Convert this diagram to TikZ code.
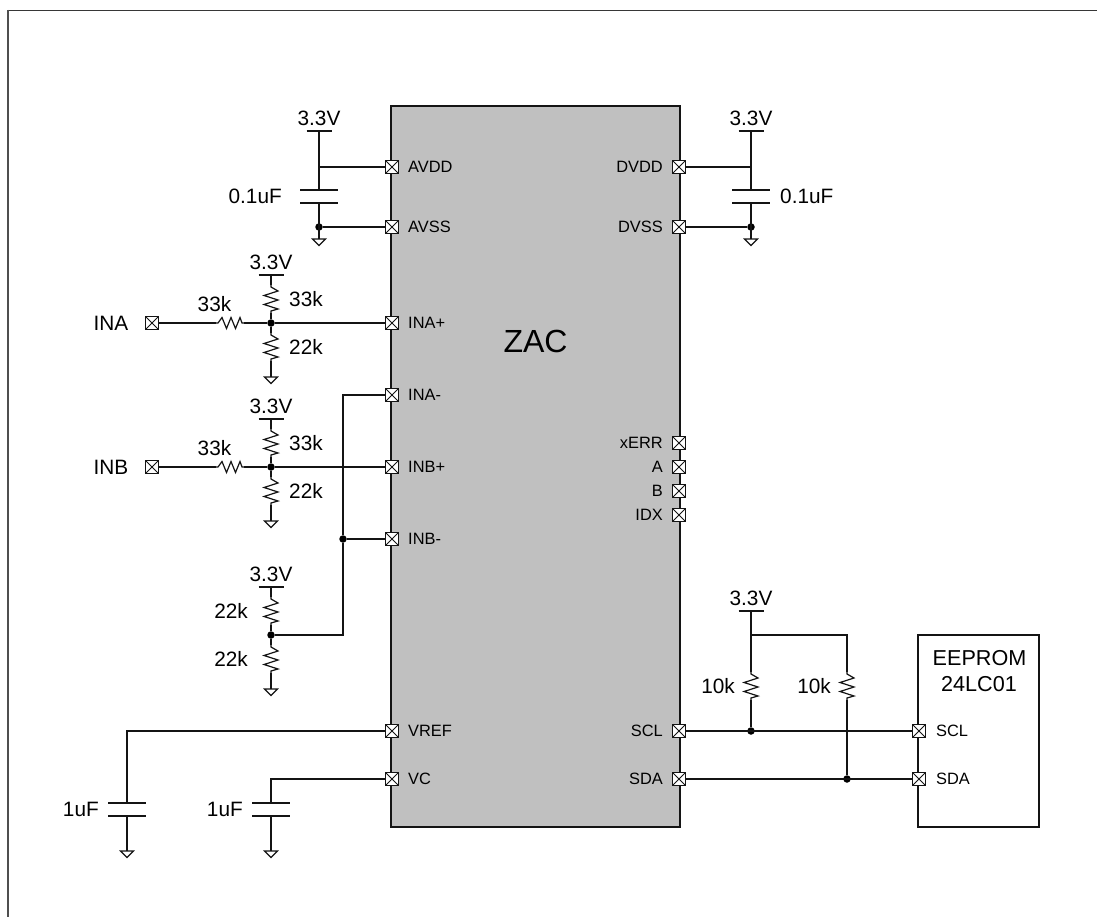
\documentclass[tikz,border=0pt]{standalone}
\usepackage{fontspec}
\setmainfont{Liberation Sans}
\usetikzlibrary{calc}
\definecolor{icgray}{RGB}{192,192,192}
\definecolor{ink}{RGB}{20,20,20}
\tikzset{
  x=1pt,y=-1pt,
  wire/.style={draw=ink,line width=1.2pt},
  plate/.style={draw=ink,line width=2.4pt},
  supbar/.style={draw=ink,line width=1.1pt},
  pin/.style={draw=ink,fill=white,line width=1pt,minimum size=12.5pt,inner sep=0pt,outer sep=0pt,rectangle,
    path picture={\draw[ink,line width=1pt] (path picture bounding box.north west)--(path picture bounding box.south east)
      (path picture bounding box.north east)--(path picture bounding box.south west);}},
  dot/.style={circle,fill=black,inner sep=0pt,minimum size=7.5pt},
  big/.style={font=\fontsize{20.8}{23}\selectfont,inner sep=0pt},
  small/.style={font=\fontsize{16.4}{18}\selectfont,inner sep=0pt},
  title/.style={font=\fontsize{32}{34}\selectfont,inner sep=0pt},
  vres/.pic={\draw[wire,line join=miter] (0,0)--(0,2)--(7,6)--(-7,10.5)--(7,15)--(-7,19.5)--(7,24)--(0,26)--(0,28);},
  hres/.pic={\draw[wire,line join=miter] (0,0)--(2,0)--(6,-5.5)--(10.5,5.5)--(15,-5.5)--(19.5,5.5)--(24,-5.5)--(26,0)--(28,0);},
  gnd/.pic={\draw[draw=ink,line width=1.1pt] (-6.5,0)--(6.5,0)--(0,6.5)--cycle;},
  capacitor/.pic={\draw[plate] (-19,0)--(19,0) (-19,13)--(19,13);}
}
\newcommand{\supply}[3]{% name, x, y of bar
  \coordinate (#1) at (#2,#3);
  \draw[supbar] (#2-12.5,#3)--(#2+12.5,#3);
  \node[big] (#1t) at (#2,#3-13) {3.3V};
}
\begin{document}
\begin{tikzpicture}
\useasboundingbox (0,0) rectangle (1097,917);
\draw[draw=ink!85,line width=1.3pt] (1097,10.5)--(7.5,10.5);
\draw[draw=ink!75,line width=2pt] (7.5,10)--(7.5,917);

\node[draw=ink,fill=icgray,line width=1.2pt,minimum width=289pt,minimum height=721pt,inner sep=0pt] (ic) at (535.5,466.5) {};
\node[title] (zac) at (535.5,341) {ZAC};
\node[draw=ink,fill=white,line width=1.2pt,minimum width=121pt,minimum height=192pt,inner sep=0pt] (eep) at (978.5,731) {};
\node[big,font=\fontsize{21.6}{23}\selectfont] (eept) at (979.5,658) {EEPROM};
\node[big,font=\fontsize{21.6}{23}\selectfont] (eepb) at (979,684) {24LC01};

% IC left pins
\foreach \n/\y/\t in {avdd/167/AVDD,avss/227/AVSS,inap/323/INA+,inam/395/INA-,inbp/467/INB+,inbm/539/INB-,vref/731/VREF,vc/779/VC}{
  \node[pin] (\n) at (392,\y) {};
  \node[small,anchor=west] (\n t) at (408,\y) {\t};
}
% IC right pins
\foreach \n/\y/\t in {dvdd/167/DVDD,dvss/227/DVSS,xerr/443/xERR,pa/467/A,pb/491/B,idx/515/IDX,scl/731/SCL,sda/779/SDA}{
  \node[pin] (\n) at (679,\y) {};
  \node[small,anchor=east] (\n t) at (663,\y) {\t};
}
\foreach \n/\y/\t in {escl/731/SCL,esda/779/SDA}{
  \node[pin] (\n) at (919,\y) {};
  \node[small,anchor=west] (\n t) at (936,\y) {\t};
}
\node[pin] (ina) at (152,323) {};
\node[big,anchor=east] (inat) at (128.5,323) {INA};
\node[pin] (inb) at (152,467) {};
\node[big,anchor=east] (inbt) at (128.5,467) {INB};

% AVDD block
\supply{s1}{319}{131}
\coordinate (c1a) at (319,190); \coordinate (c1b) at (319,203);
\coordinate (j1) at (319,167);
\node[dot] (d1) at (319,227) {};
\coordinate (g1) at (319,239);
\draw[wire] (s1)--(c1a) (c1b)--(g1);
\draw[wire] (j1)--(avdd.west);
\draw[wire] (d1)--(avss.west);
\pic at (c1a) {capacitor};
\pic at (g1) {gnd};
\node[big,anchor=east] (c1t) at (282,196) {0.1uF};

% DVDD block
\supply{s2}{751}{131}
\coordinate (c2a) at (751,190); \coordinate (c2b) at (751,203);
\coordinate (j2) at (751,167);
\node[dot] (d2) at (751,227) {};
\coordinate (g2) at (751,239);
\draw[wire] (s2)--(c2a) (c2b)--(g2);
\draw[wire] (j2)--(dvdd.east);
\draw[wire] (d2)--(dvss.east);
\pic at (c2a) {capacitor};
\pic at (g2) {gnd};
\node[big,anchor=west] (c2t) at (780,196) {0.1uF};

% Dividers INA / INB
\foreach \p/\y/\src/\dst in {a/323/ina/inap,b/467/inb/inbp}{
  \supply{vcc\p}{271}{\y-48}
  \node[dot] (jd\p) at (271,\y) {};
  \coordinate (rt\p) at (271,\y-38);
  \coordinate (rb\p) at (271,\y+10);
  \coordinate (gd\p) at (271,\y+54);
  \coordinate (rh\p) at (216,\y);
  \draw[wire] (vcc\p)--(rt\p) ($(rt\p)+(0,28)$)--(jd\p)--(rb\p) ($(rb\p)+(0,28)$)--(gd\p);
  \draw[wire] (\src.east)--(rh\p) ($(rh\p)+(28,0)$)--(jd\p)--(\dst.west);
  \pic at (rt\p) {vres};
  \pic at (rb\p) {vres};
  \pic at (rh\p) {hres};
  \pic at (gd\p) {gnd};
  \node[big,anchor=west] (lt\p) at (289,\y-24) {33k};
  \node[big,anchor=west] (lb\p) at (289,\y+24) {22k};
  \node[big] (lh\p) at (214.5,\y-19) {33k};
}

% INx- divider
\supply{s3}{271}{587}
\node[dot] (j3) at (271,635) {};
\coordinate (r3t) at (271,597);
\coordinate (r3b) at (271,645);
\coordinate (g3) at (271,689);
\draw[wire] (s3)--(r3t) ($(r3t)+(0,28)$)--(j3)--(r3b) ($(r3b)+(0,28)$)--(g3);
\pic at (r3t) {vres};
\pic at (r3b) {vres};
\pic at (g3) {gnd};
\node[big,anchor=east] (l3a) at (248,611) {22k};
\node[big,anchor=east] (l3b) at (248,659) {22k};
\node[dot] (j4) at (343,539) {};
\coordinate (k1) at (343,395);
\coordinate (k2) at (343,635);
\draw[wire] (inam.west)--(k1)--(j4)--(k2)--(j3);
\draw[wire] (j4)--(inbm.west);

% VREF / VC caps
\coordinate (k3) at (127,731);
\coordinate (k4) at (271,779);
\coordinate (c3a) at (127,803); \coordinate (c3b) at (127,816);
\coordinate (c4a) at (271,803); \coordinate (c4b) at (271,816);
\coordinate (g5) at (127,851); \coordinate (g6) at (271,851);
\draw[wire] (vref.west)--(k3)--(c3a) (c3b)--(g5);
\draw[wire] (vc.west)--(k4)--(c4a) (c4b)--(g6);
\pic at (c3a) {capacitor};
\pic at (c4a) {capacitor};
\pic at (g5) {gnd};
\pic at (g6) {gnd};
\node[big,anchor=east] (c3t) at (99,809) {1uF};
\node[big,anchor=east] (c4t) at (243,809) {1uF};

% I2C pull-ups
\supply{s4}{751}{611}
\coordinate (t1) at (751,635);
\coordinate (t2) at (847,635);
\coordinate (r5) at (751,672);
\coordinate (r6) at (847,672);
\node[dot] (d5) at (751,731) {};
\node[dot] (d6) at (847,779) {};
\draw[wire] (s4)--(t1)--(r5) ($(r5)+(0,28)$)--(d5);
\draw[wire] (t1)--(t2)--(r6) ($(r6)+(0,28)$)--(d6);
\pic at (r5) {vres};
\pic at (r6) {vres};
\draw[wire] (scl.east)--(escl.west);
\draw[wire] (sda.east)--(esda.west);
\node[big,anchor=east] (l5) at (735,686) {10k};
\node[big,anchor=east] (l6) at (831,686) {10k};
\end{tikzpicture}
\end{document}
